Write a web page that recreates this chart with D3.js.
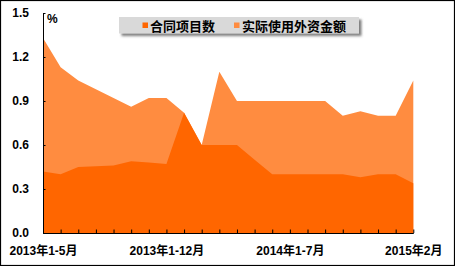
<!DOCTYPE html>
<html><head><meta charset="utf-8">
<script src="https://cdn.jsdelivr.net/npm/d3@7"></script>
<style>
html,body{margin:0;padding:0;background:#fff;}
svg{display:block;}
text{font-family:"Liberation Sans",Arial,"Noto Sans CJK SC",sans-serif;font-weight:bold;}
</style></head>
<body>
<svg id="c" width="455" height="266"></svg>
<script>
const categories = ["2013年1-5月","2013年1-6月","2013年1-7月","2013年1-8月","2013年1-9月","2013年1-10月","2013年1-11月","2013年1-12月",
  "2014年1月","2014年1-2月","2014年1-3月","2014年1-4月","2014年1-5月","2014年1-6月","2014年1-7月","2014年1-8月",
  "2014年1-9月","2014年1-10月","2014年1-11月","2014年1-12月","2015年1月","2015年2月"];
const contractProjects = [0.42,0.40,0.45,0.455,0.46,0.49,0.48,0.47,0.82,0.60,0.60,0.60,0.50,0.40,0.40,0.40,0.40,0.40,0.38,0.40,0.40,0.34];
const actualFDI = [1.33,1.13,1.04,0.98,0.92,0.86,0.92,0.92,0.82,0.60,1.10,0.90,0.90,0.90,0.90,0.90,0.90,0.80,0.83,0.80,0.80,1.04];
const yTicks = [0,0.3,0.6,0.9,1.2,1.5];
const labelEvery = 7;
const seriesNames = ["合同项目数","实际使用外资金额"];
const colors = ["#FF6600","#FF8C40"];

const svg = d3.select("#c");
const defs = svg.append("defs");
const f = defs.append("filter").attr("id","sh").attr("x","-10%").attr("y","-30%").attr("width","130%").attr("height","190%");
f.append("feDropShadow").attr("dx",2.5).attr("dy",2.5).attr("stdDeviation",1.2).attr("flood-color","#555").attr("flood-opacity",0.75);

// border
svg.append("rect").attr("x",0.5).attr("y",0.5).attr("width",454).attr("height",265)
  .attr("fill","#fff").attr("stroke","#000").attr("stroke-width",1.2);

const x = d3.scalePoint().domain(d3.range(categories.length)).range([43,413.3]);
const y = d3.scaleLinear().domain([0,1.5]).range([233,13]);

const area = d3.area().x((d,i)=>x(i)).y0(y(0)).y1(d=>y(d));
svg.append("path").datum(actualFDI).attr("d",area).attr("fill",colors[1]);
svg.append("path").datum(contractProjects).attr("d",area).attr("fill",colors[0]);

// y axis
const ya = svg.append("g").attr("transform","translate(43,0)")
  .call(d3.axisLeft(y).tickValues(yTicks).tickFormat(d3.format(".1f")).tickSizeInner(-2.5).tickSizeOuter(0).tickPadding(14));
ya.select(".domain").attr("stroke","#000");
ya.selectAll(".tick line").attr("stroke","#000");
ya.selectAll("text").attr("font-size",12).attr("fill","#000").attr("font-family","'Liberation Sans',Arial,sans-serif").attr("font-weight","bold");

// x axis
const xa = svg.append("g").attr("transform","translate(0,233)")
  .call(d3.axisBottom(x).tickSizeInner(-3.5).tickSizeOuter(0).tickPadding(13)
    .tickFormat(i => i % labelEvery === 0 ? categories[i] : ""));
xa.select(".domain").attr("stroke","#000");
xa.selectAll(".tick line").attr("stroke","#000");
xa.selectAll("text").attr("font-size",12).attr("fill","#000").attr("font-weight","bold")
  .attr("font-family","'Liberation Sans',Arial,'Noto Sans CJK SC',sans-serif");

// unit
svg.append("text").attr("x",47).attr("y",23).attr("font-size",12).attr("fill","#000").text("%");

// legend
const lg = svg.append("g");
lg.append("rect").attr("x",119).attr("y",17).attr("width",240).attr("height",16.5)
  .attr("fill","#D9D9D9").attr("filter","url(#sh)");
const items = [{x:142.5,tx:150},{x:234,tx:242}];
items.forEach((it,k)=>{
  lg.append("rect").attr("x",it.x).attr("y",22.5).attr("width",5.5).attr("height",5.5).attr("fill",colors[k]);
  lg.append("text").attr("x",it.tx).attr("y",30.5).attr("font-size",13).attr("fill","#000")
    .attr("font-family","'Noto Sans CJK SC',sans-serif").attr("font-weight","bold").text(seriesNames[k]);
});
</script>
</body></html>
